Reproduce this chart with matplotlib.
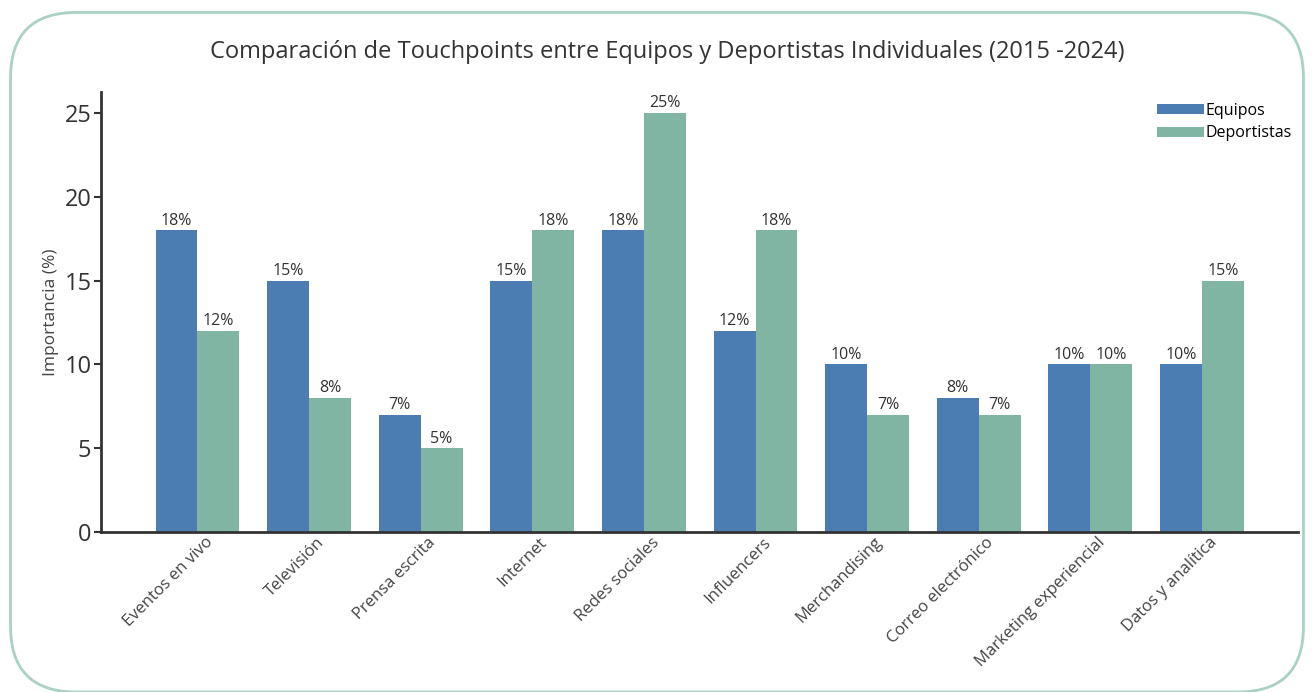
"""
Comparación de Touchpoints entre Equipos y Deportistas Individuales
"""

import matplotlib
matplotlib.use('Agg')
import matplotlib.pyplot as plt
from matplotlib.patches import FancyBboxPatch
from matplotlib.transforms import ScaledTranslation
import numpy as np

# --- Data ---
categories = ['Eventos en vivo', 'Televisión', 'Prensa escrita', 'Internet',
              'Redes sociales', 'Influencers', 'Merchandising',
              'Correo electrónico', 'Marketing experiencial', 'Datos y analítica']
equipos = [18, 15, 7, 15, 18, 12, 10, 8, 10, 10]
deportistas = [12, 8, 5, 18, 25, 18, 7, 7, 10, 15]

plt.rcParams['font.family'] = ['Open Sans', 'DejaVu Sans']

fig = plt.figure(figsize=(13.14, 6.92), dpi=100)
ax = fig.add_axes([0.077, 0.231, 0.911, 0.636])

blue = '#4b7db3'
green = '#80b4a3'
bar_width = 0.375

x = np.arange(len(categories))
b1 = ax.bar(x - bar_width / 2, equipos, bar_width, color=blue, label='Equipos')
b2 = ax.bar(x + bar_width / 2, deportistas, bar_width, color=green, label='Deportistas')

# Value labels on top of each bar
for bars, vals in [(b1, equipos), (b2, deportistas)]:
    for rect, v in zip(bars, vals):
        ax.text(rect.get_x() + rect.get_width() / 2, v + 0.1, f'{v}%',
                ha='center', va='bottom', fontsize=11.5, color='#333333')

ax.set_xticks(x)
ax.set_xticklabels(categories, rotation=45, ha='right', rotation_mode='anchor',
                   fontsize=12, color='#444444')
ax.tick_params(axis='x', length=0, pad=3)
shift = ScaledTranslation(7 / 100, 2 / 100, fig.dpi_scale_trans)
for lbl in ax.get_xticklabels():
    lbl.set_transform(lbl.get_transform() + shift)

ax.set_yticks([0, 5, 10, 15, 20, 25])
ax.tick_params(axis='y', labelsize=17, length=5, width=1.5, colors='#333333', pad=2)
ax.set_ylabel('Importancia (%)', fontsize=12.5, color='#444444', labelpad=4)

fig.text(0.508, 0.925,
         'Comparación de Touchpoints entre Equipos y Deportistas Individuales (2015 -2024)',
         ha='center', va='center', fontsize=17, color='#333333')

ax.legend(loc='upper right', frameon=False, fontsize=11.5, handlelength=2.95,
          handleheight=0.6, labelspacing=0.4, handletextpad=0.1,
          bbox_to_anchor=(1.0, 0.99), borderaxespad=0)

for side in ['top', 'right']:
    ax.spines[side].set_visible(False)
for side in ['left', 'bottom']:
    ax.spines[side].set_linewidth(2)
    ax.spines[side].set_color('#333333')

# Rounded outer border
border = FancyBboxPatch((0.008, 0.0), 0.984, 0.982, transform=fig.transFigure,
                        boxstyle='round,pad=0,rounding_size=0.05',
                        facecolor='none', edgecolor='#a9d2c4', linewidth=2,
                        mutation_aspect=1314 / 692)
fig.patches.append(border)

plt.savefig('out.png', dpi=100)
